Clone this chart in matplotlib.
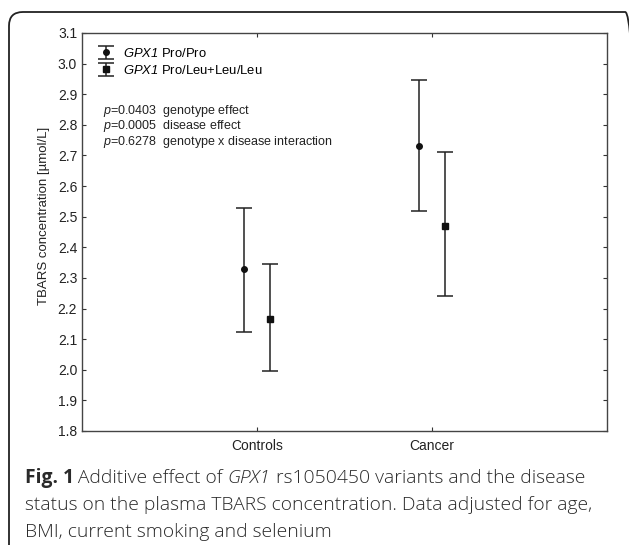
import numpy as np
import matplotlib
matplotlib.use("Agg")
import matplotlib.pyplot as plt
from matplotlib.patches import FancyBboxPatch

plt.rcParams['font.family'] = 'Liberation Sans'
plt.rcParams['mathtext.fontset'] = 'custom'
plt.rcParams['mathtext.it'] = 'Liberation Sans:italic'
# digits inside math should be italic too (GPX1)
plt.rcParams['mathtext.rm'] = 'Liberation Sans:italic'

groups = ['Controls', 'Cancer']
pro_mean = [2.33, 2.73]
pro_low = [2.125, 2.52]
pro_high = [2.53, 2.945]
leu_mean = [2.165, 2.47]
leu_low = [1.995, 2.24]
leu_high = [2.345, 2.71]

labels = [r'$GPX1$ Pro/Pro', r'$GPX1$ Pro/Leu+Leu/Leu']
stats = [r'$p$=0.0403  genotype effect',
         r'$p$=0.0005  disease effect',
         r'$p$=0.6278  genotype x disease interaction']

W, H = 629, 545
fig = plt.figure(figsize=(W/100, H/100), dpi=100)

# card border, rounded corners
border = FancyBboxPatch((9/W, -0.1), (639-9)/W, (H-12)/H + 0.1,
                        boxstyle="round,pad=0,rounding_size=0.022",
                        transform=fig.transFigure, fill=False,
                        ec='#222222', lw=1.3, mutation_aspect=W/H)
fig.patches.append(border)

ax = fig.add_axes([82/W, 1 - 431/H, (607-82)/W, (431-33)/H])

x = np.arange(1, len(groups) + 1)
dx = 0.075
for xs, m, lo, hi, mk, ms, lab in [
        (x - dx, pro_mean, pro_low, pro_high, 'o', 4, labels[0]),
        (x + dx, leu_mean, leu_low, leu_high, 's', 5, labels[1])]:
    m = np.array(m)
    err = [m - np.array(lo), np.array(hi) - m]
    ax.errorbar(xs, m, yerr=err, fmt=mk, ms=ms, color='#111111', ecolor='#222222',
                elinewidth=1.1, capsize=6, capthick=1.1, label=lab)

ax.set_xlim(0, 3)
ax.set_ylim(1.8, 3.1)
ax.set_xticks(x)
ax.set_xticklabels(groups)
yt = np.arange(1.8, 3.11, 0.1)
ax.set_yticks(yt)
ax.set_yticklabels(['%.1f' % v for v in yt])
ax.tick_params(direction='in', top=True, right=True, labelsize=10,
               length=3, width=0.8, colors='#333333', labelcolor='#222222')
ax.tick_params(axis='x', pad=6)
for s in ax.spines.values():
    s.set_color('#444444')
    s.set_linewidth(1.0)
ax.set_ylabel('TBARS concentration [\u00b5mol/L]', fontsize=9.5, color='#222222')
ax.yaxis.set_label_coords(-0.061, 0.54)

ax.legend(loc='upper left', frameon=False, fontsize=9.4, handlelength=1.6,
          handletextpad=0.55, borderaxespad=0.0, labelspacing=0.3,
          borderpad=0.2, bbox_to_anchor=(0.02, 0.972))

fig.text(103/W, 1 - 103/H, '\n'.join(stats), fontsize=9, va='top',
         linespacing=0.95, color='#222222')

# caption
cap_kw = dict(fontsize=13.9, family='Open Sans', color='#2a2a2a', va='baseline')
fig.canvas.draw()
renderer = fig.canvas.get_renderer()


def chain(pieces, x0, y0):
    xpos = x0
    for txt, extra in pieces:
        t = fig.text(xpos, y0, txt, **cap_kw, **extra)
        bb = t.get_window_extent(renderer)
        xpos = bb.x1 / W


light = dict(fontweight='light')
chain([('Fig. 1', dict(fontweight='bold')),
       ('\u2009Additive effect of ', light),
       ('GPX1', dict(fontweight='light', style='italic')),
       (' rs1050450 variants and the disease', light)], 25/W, 1 - 483/H)
fig.text(25/W, 1 - 510/H,
         'status on the plasma TBARS concentration. Data adjusted for age,',
         fontweight='light', **cap_kw)
fig.text(25/W, 1 - 537/H, 'BMI, current smoking and selenium',
         fontweight='light', **cap_kw)

fig.savefig('out.png', dpi=100)
